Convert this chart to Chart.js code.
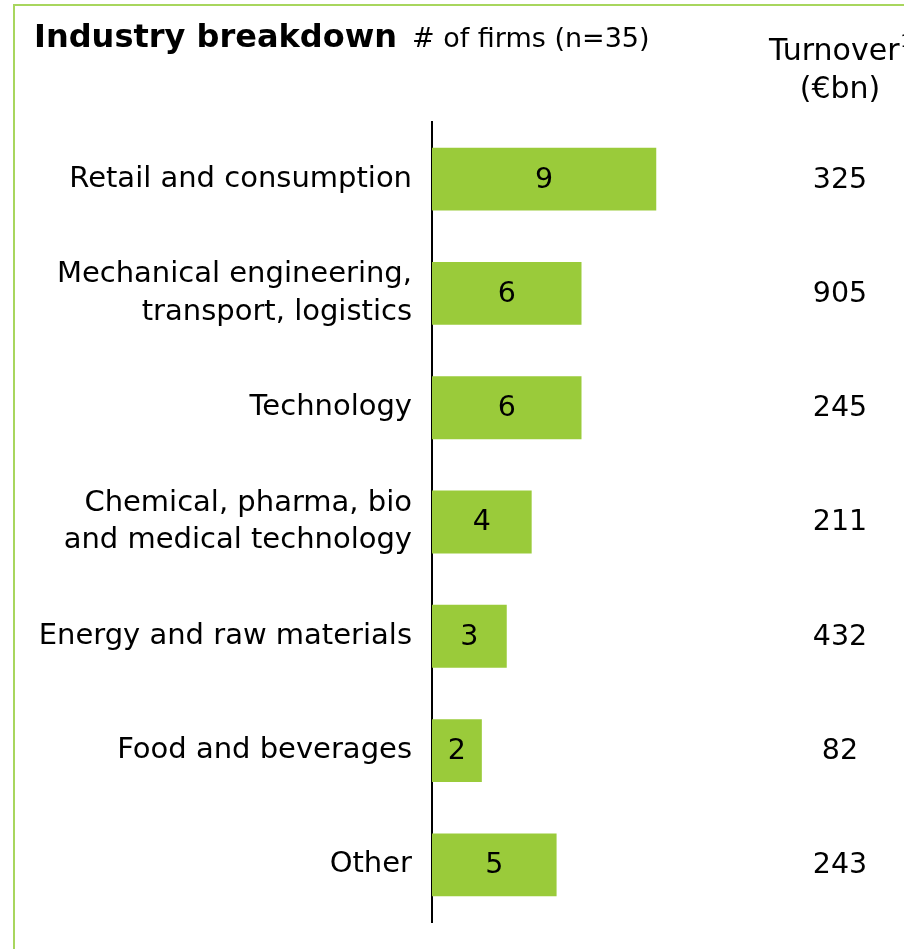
<!DOCTYPE html>
<html>
<head>
<meta charset="utf-8">
<script src="https://cdn.jsdelivr.net/npm/chart.js@4/dist/chart.umd.min.js"></script>
<style>
  html, body { margin: 0; padding: 0; background: #fff; }
  #wrap { position: relative; width: 904px; height: 949px; }
</style>
</head>
<body>
<div id="wrap"><canvas id="industry"></canvas></div>
<script>
const industries = [
  'Retail and consumption',
  ['Mechanical engineering,', 'transport, logistics'],
  'Technology',
  ['Chemical, pharma, bio', 'and medical technology'],
  'Energy and raw materials',
  'Food and beverages',
  'Other'
]
const firmCounts = [9, 6, 6, 4, 3, 2, 5]
const turnoverBn = [325, 905, 245, 211, 432, 82, 243]

const FONT = '"DejaVu Sans", Verdana, sans-serif'
const GREEN = '#9ACB3A'

// frame, heading and the turnover column are drawn straight onto the canvas
const extrasPlugin = {
  id: 'extras',
  beforeDraw(chart) {
    const ctx = chart.ctx
    ctx.save()
    ctx.strokeStyle = '#A8D65E'
    ctx.lineWidth = 2
    ctx.beginPath()
    ctx.moveTo(14, chart.height)
    ctx.lineTo(14, 5)
    ctx.lineTo(chart.width, 5)
    ctx.stroke()

    ctx.fillStyle = '#000'
    ctx.textBaseline = 'alphabetic'
    ctx.textAlign = 'left'
    ctx.font = 'bold 32px ' + FONT
    ctx.fillText('Industry breakdown', 34, 47)
    ctx.font = '27px ' + FONT
    ctx.fillText('# of firms (n=35)', 412, 47)

    ctx.font = '30px ' + FONT
    ctx.fillText('Turnover', 769, 60)
    const w = ctx.measureText('Turnover').width
    ctx.font = '17px ' + FONT
    ctx.fillText('1', 769 + w + 1, 47)
    ctx.font = '30px ' + FONT
    ctx.textAlign = 'center'
    ctx.fillText('(€bn)', 840, 98)
    ctx.restore()
  },
  afterDatasetsDraw(chart) {
    const ctx = chart.ctx
    const meta = chart.getDatasetMeta(0)
    const yScale = chart.scales.y
    ctx.save()
    ctx.fillStyle = '#000'
    ctx.font = '28.5px ' + FONT
    ctx.textAlign = 'center'
    ctx.textBaseline = 'middle'
    meta.data.forEach((bar, i) => {
      const mid = (bar.base + bar.x) / 2
      ctx.fillText(String(firmCounts[i]), mid, bar.y + 1)
      ctx.fillText(String(turnoverBn[i]), 840, yScale.getPixelForValue(i) + 1)
    })
    ctx.restore()
  }
}

const barConfig = {
  type: 'bar',
  data: {
    labels: industries,
    datasets: [
      {
        data: firmCounts,
        backgroundColor: GREEN,
        borderWidth: 0,
        categoryPercentage: 1,
        barPercentage: 0.55,
      },
    ],
  },
  options: {
    indexAxis: 'y',
    responsive: false,
    animation: false,
    layout: {
      padding: { top: 122, bottom: 27, left: 0, right: 173 },
    },
    plugins: {
      legend: { display: false },
      tooltip: { enabled: false },
    },
    scales: {
      x: {
        display: false,
        min: 0,
        max: 12,
      },
      y: {
        grid: { display: false },
        border: { display: true, color: '#000', width: 2 },
        ticks: {
          color: '#000',
          padding: 12,
          font: { family: FONT, size: 29, lineHeight: 1.3 },
        },
        afterFit(scale) {
          // fixed label column, and no extra room for label overhang
          scale.width = 432
          scale.paddingTop = 0
          scale.paddingBottom = 0
        },
      },
    },
  },
  plugins: [extrasPlugin],
}

const canvas = document.getElementById('industry')
canvas.width = 904
canvas.height = 949
window.industryChart = new Chart(canvas, barConfig)
</script>
</body>
</html>
